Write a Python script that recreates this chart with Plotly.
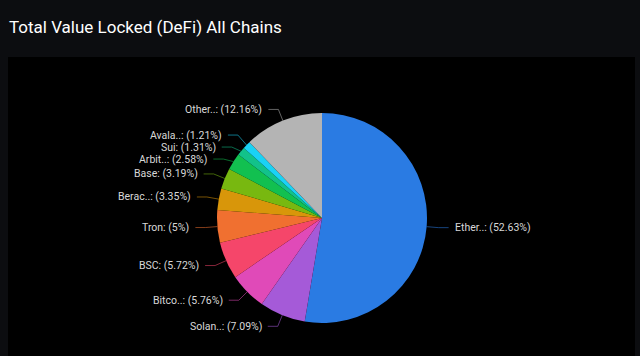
import math
import plotly.graph_objects as go

# ---- data ----
labels = ["Ether..", "Solan..", "Bitco..", "BSC", "Tron", "Berac..", "Base", "Arbit..", "Sui", "Avala..", "Other.."]
values = [52.63, 7.09, 5.76, 5.72, 5.00, 3.35, 3.19, 2.58, 1.31, 1.21, 12.16]
colors = ["#2a7be3", "#a55ad8", "#e04ab8", "#f5466a", "#f07030", "#d8960a",
          "#78b810", "#12c050", "#12c28a", "#1ad2f5", "#b4b4b4"]
title_text = "Total Value Locked (DeFi) All Chains"

W, H = 640, 356
CX, CY, R = 322, 218, 105          # pie centre / radius in pixels
LEN1, LEN2, GAP, MINSP = 12, 10, 4, 12

def px(x):
    return x / W

def py(y):
    return 1 - y / H

fig = go.Figure()
fig.add_trace(go.Pie(
    labels=labels, values=values, sort=False, direction="clockwise", rotation=0,
    marker=dict(colors=colors, line=dict(width=0)),
    textinfo="none", hoverinfo="label+percent", showlegend=False,
    domain=dict(x=[px(CX - R), px(CX + R)], y=[py(CY + R), py(CY - R)]),
))

total = sum(values)
items = []
cum = 0.0
for lab, v, c in zip(labels, values, colors):
    mid = (cum + v / 2) / total * 2 * math.pi
    cum += v
    s, co = math.sin(mid), math.cos(mid)
    ex, ey = CX + R * s, CY - R * co
    p1x, p1y = CX + (R + LEN1) * s, CY - (R + LEN1) * co
    items.append(dict(lab=lab, v=v, c=c, ex=ex, ey=ey, p1x=p1x, y=p1y, side=1 if s >= 0 else -1))

# simple overlap avoidance per side (mostly push downwards)
for side in (1, -1):
    grp = sorted([it for it in items if it["side"] == side], key=lambda d: d["y"])
    for _ in range(300):
        moved = False
        for a, b in zip(grp, grp[1:]):
            d = b["y"] - a["y"]
            if d < MINSP - 1e-6:
                sh = MINSP - d
                a["y"] -= sh * 0.25
                b["y"] += sh * 0.75
                moved = True
        if not moved:
            break

def hexrgba(h, a):
    h = h.lstrip("#")
    return "rgba(%d,%d,%d,%.2f)" % (int(h[0:2], 16), int(h[2:4], 16), int(h[4:6], 16), a)

shapes = [dict(type="rect", xref="paper", yref="paper", x0=px(8), x1=px(635), y0=0, y1=py(57),
               fillcolor="#000000", line=dict(width=0), layer="below")]
annotations = []
for it in items:
    sd = it["side"]
    p2x = it["p1x"] + sd * LEN2
    path = "M %f %f L %f %f L %f %f" % (px(it["ex"]), py(it["ey"]), px(it["p1x"]), py(it["y"]),
                                       px(p2x), py(it["y"]))
    shapes.append(dict(type="path", xref="paper", yref="paper", path=path,
                       line=dict(color=hexrgba(it["c"], 0.55), width=1)))
    vs = "%g" % it["v"]
    annotations.append(dict(
        xref="paper", yref="paper", x=px(p2x + sd * GAP), y=py(it["y"]),
        text="%s: (%s%%)" % (it["lab"], vs), showarrow=False,
        xanchor="left" if sd > 0 else "right", yanchor="middle",
        font=dict(family="Roboto", size=10.5, color="#d8d8d8")))

annotations.append(dict(xref="paper", yref="paper", x=px(7), y=py(27), text=title_text,
                        showarrow=False, xanchor="left", yanchor="middle",
                        font=dict(family="Roboto", size=17, color="#ffffff")))

fig.update_layout(
    width=W, height=H, margin=dict(l=0, r=0, t=0, b=0),
    paper_bgcolor="#0c0d10", plot_bgcolor="#0c0d10",
    shapes=shapes, annotations=annotations,
)
fig.write_html("out.html", config={"displayModeBar": False},
               post_script="document.body.style.margin='0';document.body.style.background='#0c0d10';")
